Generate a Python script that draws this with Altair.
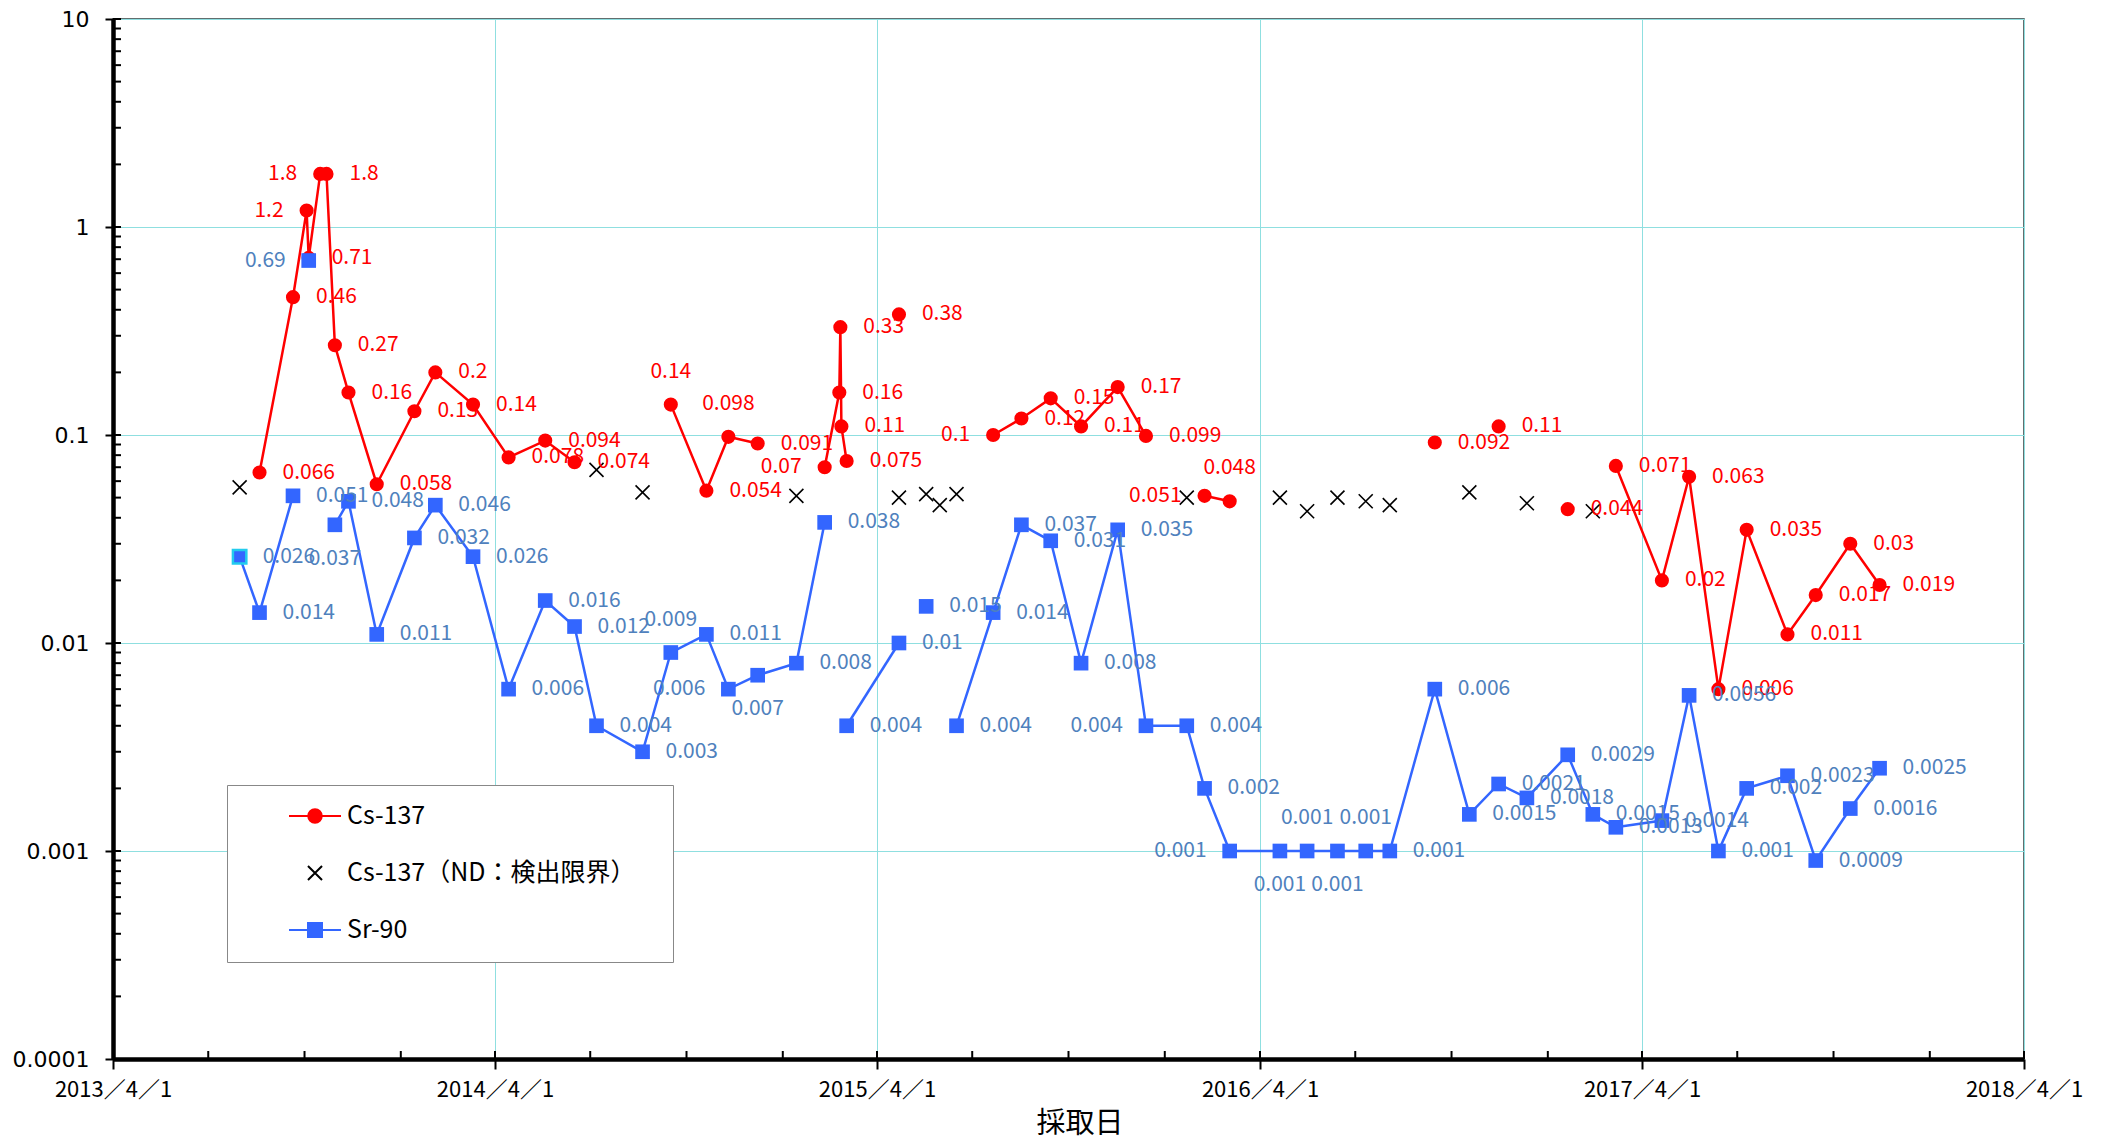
import altair as alt
import pandas as pd

FONT = "Noto Sans CJK JP"
AXIS_FONT = "DejaVu Sans"

# ---------------- data ----------------
cs_dates = [
    "2013-08-19", "2013-09-20", "2013-10-03", "2013-10-05", "2013-10-16", "2013-10-22",
    "2013-10-30", "2013-11-12", "2013-12-09", "2014-01-14", "2014-02-03", "2014-03-11",
    "2014-04-14", "2014-05-19", "2014-06-16",
    "2014-09-16", "2014-10-20", "2014-11-10", "2014-12-08",
    "2015-02-10", "2015-02-24", "2015-02-25", "2015-02-26", "2015-03-03",
    "2015-04-22",
    "2015-07-21", "2015-08-17", "2015-09-14", "2015-10-13", "2015-11-17", "2015-12-14",
    "2016-02-08", "2016-03-03",
    "2016-09-15", "2016-11-15", "2017-01-20",
    "2017-03-07", "2017-04-20", "2017-05-16", "2017-06-13", "2017-07-10", "2017-08-18",
    "2017-09-14", "2017-10-17", "2017-11-14",
]
cs_values = [
    0.066, 0.46, 1.2, 0.71, 1.8, 1.8, 0.27, 0.16, 0.058, 0.13, 0.2, 0.14, 0.078, 0.094, 0.074,
    0.14, 0.054, 0.098, 0.091,
    0.07, 0.16, 0.33, 0.11, 0.075,
    0.38,
    0.1, 0.12, 0.15, 0.11, 0.17, 0.099,
    0.051, 0.048,
    0.092, 0.11, 0.044,
    0.071, 0.02, 0.063, 0.006, 0.035, 0.011, 0.017, 0.03, 0.019,
]
cs_segments = [1] * 15 + [2] * 4 + [3] * 5 + [4] + [5] * 6 + [6] * 2 + [7, 8, 9] + [10] * 9
cs_label_side = (
    ["r", "r", "l", "r", "l", "r", "r", "r", "r", "r", "r", "r", "r", "r", "r"]
    + ["t", "r", "t", "r"]
    + ["l", "r", "r", "r", "r"]
    + ["r"]
    + ["l", "r", "r", "r", "r", "r"]
    + ["l", "t"]
    + ["r", "r", "r"]
    + ["r"] * 9
)

nd_dates = [
    "2013-07-31", "2014-07-07", "2014-08-20", "2015-01-14", "2015-04-22", "2015-05-18",
    "2015-05-31", "2015-06-16", "2016-01-22", "2016-04-20", "2016-05-16", "2016-06-14",
    "2016-07-11", "2016-08-03", "2016-10-18", "2016-12-12", "2017-02-13",
]
nd_values = [
    0.056, 0.068, 0.053, 0.051, 0.050, 0.052, 0.046, 0.052, 0.050, 0.050, 0.043, 0.050,
    0.048, 0.046, 0.053, 0.047, 0.043,
]

sr_dates = [
    "2013-07-31", "2013-08-19", "2013-09-20",
    "2013-10-05",
    "2013-10-30", "2013-11-12", "2013-12-09", "2014-01-14", "2014-02-03", "2014-03-11",
    "2014-04-14", "2014-05-19", "2014-06-16", "2014-07-07", "2014-08-20", "2014-09-16",
    "2014-10-20", "2014-11-10", "2014-12-08", "2015-01-14", "2015-02-10",
    "2015-03-03", "2015-04-22",
    "2015-05-18",
    "2015-06-16", "2015-07-21", "2015-08-17", "2015-09-14", "2015-10-13", "2015-11-17",
    "2015-12-14", "2016-01-22", "2016-02-08", "2016-03-03", "2016-04-20", "2016-05-16",
    "2016-06-14", "2016-07-11", "2016-08-03", "2016-09-15", "2016-10-18", "2016-11-15",
    "2016-12-12", "2017-01-20", "2017-02-13", "2017-03-07", "2017-04-20", "2017-05-16",
    "2017-06-13", "2017-07-10", "2017-08-18", "2017-09-14", "2017-10-17", "2017-11-14",
]
sr_values = [
    0.026, 0.014, 0.051,
    0.69,
    0.037, 0.048, 0.011, 0.032, 0.046, 0.026, 0.006, 0.016, 0.012, 0.004, 0.003, 0.009,
    0.011, 0.006, 0.007, 0.008, 0.038,
    0.004, 0.01,
    0.015,
    0.004, 0.014, 0.037, 0.031, 0.008, 0.035, 0.004, 0.004, 0.002, 0.001, 0.001, 0.001,
    0.001, 0.001, 0.001, 0.006, 0.0015, 0.0021, 0.0018, 0.0029, 0.0015, 0.0013, 0.0014,
    0.0056, 0.001, 0.002, 0.0023, 0.0009, 0.0016, 0.0025,
]
sr_segments = [1] * 3 + [2] + [3] * 17 + [4] * 2 + [5] + [6] * 30
sr_label_side = (
    ["r", "r", "r"]
    + ["l"]
    + ["b", "r", "r", "r", "r", "r", "r", "r", "r", "r", "r", "t", "r", "l", "b", "r", "r"]
    + ["r", "r"]
    + ["r"]
    + ["r", "r", "r", "r", "r", "r", "l", "r", "r", "l", "b", "t", "b", "t", "r"]
    + ["r"] * 15
)

series_names = ["Cs-137", "Cs-137（ND：検出限界）", "Sr-90"]
year_labels_years = [2013, 2014, 2015, 2016, 2017, 2018]
y_major = [0.0001, 0.001, 0.01, 0.1, 1, 10]

# ---------------- frames ----------------
cs_df = pd.DataFrame({"date": cs_dates, "value": cs_values, "seg": cs_segments, "side": cs_label_side})
nd_df = pd.DataFrame({"date": nd_dates, "value": nd_values})
sr_df = pd.DataFrame({"date": sr_dates, "value": sr_values, "seg": sr_segments, "side": sr_label_side})

y_minor = [m * 10.0 ** e for e in range(-4, 1) for m in range(2, 10)]
y_tick_df = pd.DataFrame({"value": y_minor + y_major})
quarter_ticks = [d.strftime("%Y-%m-%d") for d in pd.date_range("2013-04-01", "2018-04-01", freq="QS")]
x_tick_df = pd.DataFrame({"date": quarter_ticks})
legend_df = pd.DataFrame({"series": series_names})

# ---------------- style ----------------
W, H = 1911, 1040
GRID = "#8FDFE0"
RED = "#FF0000"
BLUE = "#3366FF"
BLUE_TEXT = "#4F81BD"

year_ticks = [alt.DateTime(year=y, month=4, date=1, utc=True) for y in year_labels_years]

x_axis = alt.Axis(
    values=year_ticks, labelExpr="utcFormat(datum.value, '%Y／%-m／%-d')", title="採取日",
    grid=True, gridColor=GRID, gridWidth=1, tickSize=10, tickWidth=2, tickColor="black",
    domainColor="black", domainWidth=4.5, labelFont=FONT, labelFontSize=22,
    labelColor="black", labelPadding=10, labelFlush=False, labelOverlap=False,
    titleFont=FONT, titleFontSize=29, titleFontWeight="normal", titleColor="black",
    titlePadding=9, titleX=W / 2 + 11,
)
y_axis = alt.Axis(
    values=y_major, format="~g", title=None, grid=True, gridColor=GRID, gridWidth=1,
    tickSize=8, tickWidth=2, tickColor="black", domainColor="black", domainWidth=4.5,
    labelFont=AXIS_FONT, labelFontSize=22, labelColor="black", labelPadding=16,
    labelOverlap=False, labelFlush=False,
)
x_scale = alt.Scale(type="utc", domain=[year_ticks[0], year_ticks[-1]])
y_scale = alt.Scale(type="log", domain=[0.0001, 10], nice=False)

X = alt.X("date:T", scale=x_scale, axis=x_axis)
Y = alt.Y("value:Q", scale=y_scale, axis=y_axis)

# inside ticks (minor)
x_ticks = alt.Chart(x_tick_df).mark_rule(color="black", strokeWidth=2).encode(
    x=X, y=alt.value(H - 8), y2=alt.value(H))
y_ticks = alt.Chart(y_tick_df).mark_rule(color="black", strokeWidth=2).encode(
    y=Y, x=alt.value(0), x2=alt.value(8))

cs_line = alt.Chart(cs_df).mark_line(color=RED, strokeWidth=2.5).encode(x=X, y=Y, detail="seg:N")
cs_pts = alt.Chart(cs_df).mark_point(shape="circle", filled=True, size=200, color=RED, opacity=1).encode(x=X, y=Y)
nd_pts = alt.Chart(nd_df).mark_point(
    shape="M-1,-1L1,1M-1,1L1,-1", filled=False, size=196, color="black", strokeWidth=1.6, opacity=1
).encode(x=X, y=Y)
sr_line = alt.Chart(sr_df).mark_line(color=BLUE, strokeWidth=2.5).encode(x=X, y=Y, detail="seg:N")
sr_pts = alt.Chart(sr_df).mark_point(shape="square", filled=True, size=215, color=BLUE, opacity=1).encode(x=X, y=Y)
sr_first = (
    alt.Chart(sr_df)
    .transform_window(rn="row_number()")
    .transform_filter("datum.rn == 1")
    .mark_point(shape="square", filled=True, size=180, fill=BLUE, stroke="#22CCEE", strokeWidth=2.5, opacity=1)
    .encode(x=X, y=Y)
)


def label_layers(df, color):
    sides = {
        "r": dict(align="left", dx=23, dy=0),
        "l": dict(align="right", dx=-23, dy=0),
        "t": dict(align="center", dx=0, dy=-33),
        "b": dict(align="center", dx=0, dy=34),
    }
    out = []
    for side, kw in sides.items():
        out.append(
            alt.Chart(df)
            .transform_filter(alt.datum.side == side)
            .mark_text(baseline="middle", font=FONT, fontSize=21, color=color, **kw)
            .encode(x=X, y=Y, text=alt.Text("value:Q", format="~g"))
        )
    return out


legend_cfg = alt.Legend(
    title=None, orient="none", legendX=114, legendY=766, direction="vertical",
    padding=19, fillColor="white", strokeColor="#888888",
    symbolSize=2704, symbolStrokeWidth=2, symbolOpacity=1, symbolOffset=42, labelOffset=5,
    clipHeight=24, rowPadding=32, labelFont=FONT, labelFontSize=25, labelColor="black",
    labelLimit=800,
    labelExpr="datum.label + (datum.value == '" + series_names[1] + "' ? '" + "\u2800" + "' : '')",
)
legend_paths = [
    "M-1,0L1,0M-0.26,0A0.26,0.26,0,1,1,0.26,0A0.26,0.26,0,1,1,-0.26,0Z",
    "M-0.27,-0.27L0.27,0.27M-0.27,0.27L0.27,-0.27",
    "M-1,0L1,0M-0.27,-0.27L0.27,-0.27L0.27,0.27L-0.27,0.27Z",
]
legend_colors = [RED, "black", BLUE]
legend_layer = (
    alt.Chart(legend_df)
    .transform_filter("false")
    .mark_point(filled=True, strokeWidth=2)
    .encode(
        color=alt.Color("series:N", scale=alt.Scale(domain=series_names, range=legend_colors), legend=legend_cfg),
        stroke=alt.Stroke("series:N", scale=alt.Scale(domain=series_names, range=legend_colors), legend=legend_cfg),
        shape=alt.Shape("series:N", scale=alt.Scale(domain=series_names, range=legend_paths), legend=legend_cfg),
    )
)

chart = (
    alt.layer(
        x_ticks, y_ticks, cs_line, cs_pts, nd_pts, sr_line, sr_pts, sr_first,
        *label_layers(cs_df, RED), *label_layers(sr_df, BLUE_TEXT), legend_layer,
    )
    .properties(
        width=W, height=H,
        padding={"left": 105, "top": 11, "right": 70, "bottom": 80},
        autosize=alt.AutoSizeParams(type="none"),
        background="white",
    )
    .configure_view(stroke="#2F3F3F", strokeWidth=1.5)
)

chart.save("out.html", embed_options={"renderer": "svg", "actions": False})
